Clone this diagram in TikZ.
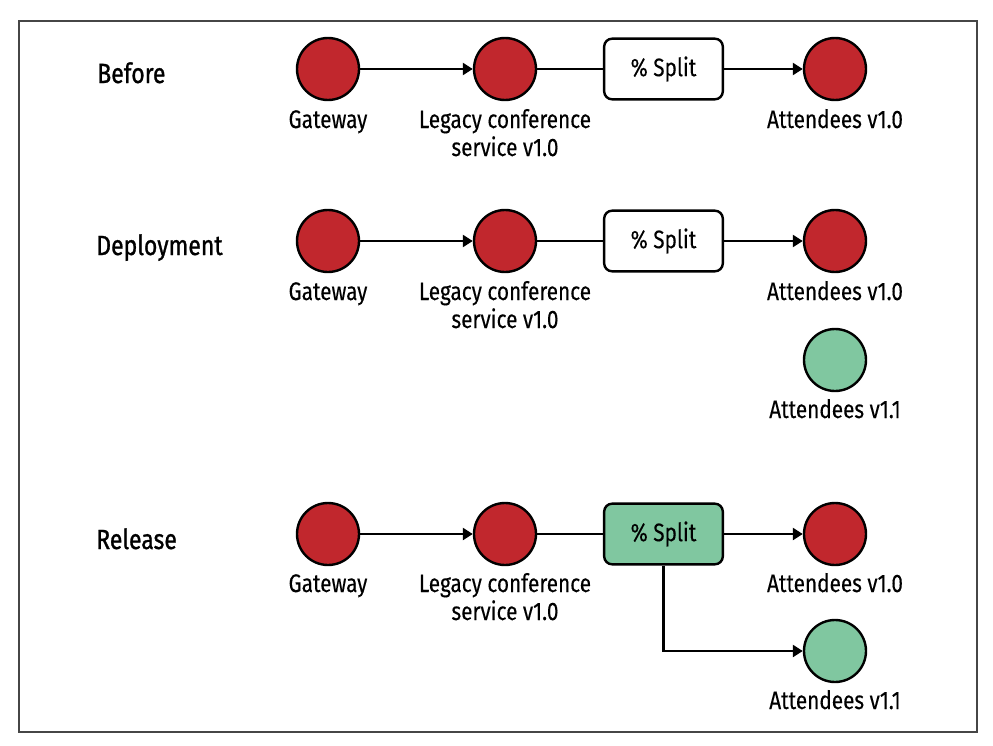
\documentclass[tikz,border=0pt]{standalone}
\usepackage{fontspec}
\setmainfont{Fira Sans}[FakeStretch=0.82,FakeBold=0.25]
\newfontfamily\labfont{Fira Sans}[FakeStretch=0.83,FakeBold=1.0]
\usetikzlibrary{arrows.meta}
\definecolor{nodered}{RGB}{193,39,45}
\definecolor{nodegreen}{RGB}{128,199,160}
\definecolor{framegray}{RGB}{70,70,70}
\tikzset{
  svc/.style={circle, draw=black, line width=1.8pt, minimum size=46.5pt, inner sep=0pt},
  oldsvc/.style={svc, fill=nodered},
  newsvc/.style={svc, fill=nodegreen},
  splitbox/.style={draw=black, line width=1.8pt, rounded corners=6pt, minimum width=89pt, minimum height=45.5pt, inner sep=0pt, font=\fontsize{19}{21}\selectfont},
  txt/.style={font=\fontsize{19}{21}\selectfont, inner sep=0pt, anchor=base, align=center},
  stage/.style={font=\labfont\fontsize{20.8}{24}\selectfont, inner sep=0pt, anchor=base west},
  conn/.style={line width=1.8pt},
  arr/.style={conn, -{Triangle[length=7.5pt,width=9pt]}},
}
\begin{document}
\begin{tikzpicture}[x=0.75pt,y=-0.75pt]
\useasboundingbox (0,0) rectangle (993,746);
\draw[framegray, line width=1.3pt] (19,21) rectangle (977,732);

% Stage labels
\node[stage] (lbefore) at (97,83) {Before};
\node[stage] (ldeploy) at (96,255) {Deployment};
\node[stage] (lrelease) at (96,549) {Release};

% Row 1: Before
\node[oldsvc] (gw1) at (328,69) {};
\node[oldsvc] (lg1) at (505,69) {};
\node[splitbox] (sp1) at (663.5,69) {\% Split};
\node[oldsvc] (at1) at (835,69) {};
\node[txt] (tgw1) at (328,128) {Gateway};
\node[txt] (tlg1) at (505,156) {Legacy conference\\service v1.0};
\node[txt] (tat1) at (835,128) {Attendees v1.0};
\draw[arr] (gw1) -- (lg1);
\draw[conn] (lg1) -- (sp1);
\draw[arr] (sp1) -- (at1);

% Row 2: Deployment
\node[oldsvc] (gw2) at (328,241) {};
\node[oldsvc] (lg2) at (505,241) {};
\node[splitbox] (sp2) at (663.5,241) {\% Split};
\node[oldsvc] (at2) at (835,241) {};
\node[newsvc] (an2) at (835,360) {};
\node[txt] (tgw2) at (328,300) {Gateway};
\node[txt] (tlg2) at (505,328) {Legacy conference\\service v1.0};
\node[txt] (tat2) at (835,300) {Attendees v1.0};
\node[txt] (tan2) at (835,418) {Attendees v1.1};
\draw[arr] (gw2) -- (lg2);
\draw[conn] (lg2) -- (sp2);
\draw[arr] (sp2) -- (at2);

% Row 3: Release
\node[oldsvc] (gw3) at (328,534) {};
\node[oldsvc] (lg3) at (505,534) {};
\node[splitbox, fill=nodegreen] (sp3) at (663.5,534) {\% Split};
\node[oldsvc] (at3) at (835,534) {};
\node[newsvc] (an3) at (835,651) {};
\node[txt] (tgw3) at (328,592) {Gateway};
\node[txt] (tlg3) at (505,620) {Legacy conference\\service v1.0};
\node[txt] (tat3) at (835,592) {Attendees v1.0};
\node[txt] (tan3) at (835,709) {Attendees v1.1};
\draw[arr] (gw3) -- (lg3);
\draw[conn] (lg3) -- (sp3);
\draw[arr] (sp3) -- (at3);
\draw[arr] (sp3.south) |- (an3.west);
\end{tikzpicture}
\end{document}
